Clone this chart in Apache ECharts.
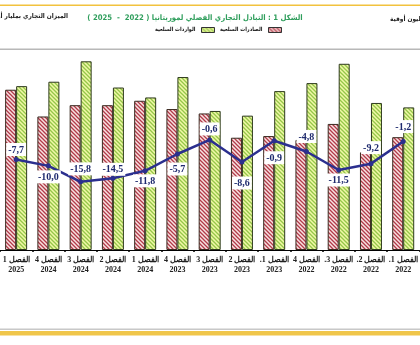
<!DOCTYPE html>
<html>
<head>
<meta charset="utf-8">
<script src="https://cdn.jsdelivr.net/npm/echarts@6/dist/echarts.min.js"></script>
<style>
html,body{margin:0;padding:0;background:#fff;}
#c{width:420px;height:345px;}
</style>
</head>
<body>
<div id="c"></div>
<script>
// ---- data ----
const categories = [
  'الفصل 1\n2025','الفصل 4\n2024','الفصل 3\n2024','الفصل 2\n2024','الفصل 1\n2024',
  'الفصل 4\n2023','الفصل 3\n2023','الفصل 2\n2023','الفصل 1.\n2023','الفصل 4\n2022',
  'الفصل 3.\n2022','الفصل 2.\n2022','الفصل 1.\n2022'
];
const exportsData = [58.1,48.4,52.5,52.5,54.1,51.1,49.5,40.7,41.3,39.9,45.7,35.4,40.9];
const importsData = [59.4,61.0,68.4,58.9,55.3,62.7,50.4,48.7,57.6,60.5,67.5,53.3,51.7];
const balanceData = [-7.7,-10.0,-15.8,-14.5,-11.8,-5.7,-0.6,-8.6,-0.9,-4.8,-11.5,-9.2,-1.2];
const seriesNames = ['الصادرات السلعية','الواردات السلعية'];
const titleText = 'الشكل 1 : التبادل التجاري الفصلي لموريتانيا ( 2022  -  2025 )';
const leftNote = 'الميزان التجاري بمليار أوقية';
const rightNote = 'مليون أوقية';

// label placement (styling only)
const labelSide = ['top','bottom','top','top','bottom','bottom','top','bottom','bottom','top','bottom','top','top'];
const labelDist = [1,2,4,0,1,6,2,12,8,6,1,7,6];

const rtl = s => s.split('\n').map(l => '\u202B' + l + '\u202C').join('\n');

function hatch(bg, fg) {
  const s = 4;
  const cv = document.createElement('canvas');
  cv.width = s; cv.height = s;
  const g = cv.getContext('2d');
  g.fillStyle = bg; g.fillRect(0,0,s,s);
  g.strokeStyle = fg; g.lineWidth = 1.3;
  g.beginPath();
  g.moveTo(-1,-1); g.lineTo(s+1,s+1);
  g.moveTo(-1,s-1); g.lineTo(1,s+1);
  g.moveTo(s-1,-1); g.lineTo(s+1,1);
  g.stroke();
  return {image: cv, repeat: 'repeat'};
}
const redPat = hatch('#f8e2e2', '#b23a48');
const greenPat = hatch('#f1f8a8', '#94c648');

const chart = echarts.init(document.getElementById('c'), null, {renderer:'canvas'});
const arFont = '"DejaVu Sans Condensed", "DejaVu Sans", sans-serif';
const serif = '"Liberation Serif", "DejaVu Serif", serif';

chart.setOption({
  animation: false,
  backgroundColor: '#ffffff',
  legend: {
    data: [seriesNames[1], seriesNames[0]],
    formatter: n => rtl(n),
    right: 133, top: 22,
    align: 'right',
    icon: 'rect',
    itemWidth: 13, itemHeight: 5,
    itemGap: 5,
    textStyle: {fontSize: 5.5, fontWeight:'bold', color:'#111', fontFamily: arFont, padding:[0,1,0,0]},
    itemStyle: {borderColor:'#333', borderWidth:1}
  },
  grid: {left: -4, width: 438, top: 50, height: 200, containLabel: false},
  xAxis: {
    type: 'category',
    data: categories,
    axisLine: {lineStyle: {color:'#000', width: 1}},
    axisTick: {show: true, length: 2, lineStyle:{color:'#000', width:1.5}},
    axisLabel: {
      interval: 0, margin: 5,
      formatter: v => rtl(v),
      fontSize: 8, fontWeight: 'bold', color: '#222', lineHeight: 10,
      fontFamily: serif
    }
  },
  yAxis: [
    {type:'value', min: 0, max: 72.5, show: false, splitLine:{show:false}},
    {type:'value', min: -40.5, max: 32, show: false, splitLine:{show:false}}
  ],
  series: [
    {
      name: seriesNames[0], type: 'bar', data: exportsData,
      barWidth: 11, barGap: '0%',
      itemStyle: {color: redPat, borderColor:'#3a2a20', borderWidth: 1}
    },
    {
      name: seriesNames[1], type: 'bar', data: importsData,
      barWidth: 11,
      itemStyle: {color: greenPat, borderColor:'#2f3a1e', borderWidth: 1}
    },
    {
      name: 'balance', type: 'line', yAxisIndex: 1, z: 5,
      data: balanceData.map((v,i)=>({value: v, label:{position: labelSide[i], distance: labelDist[i]}})),
      symbol: 'circle', symbolSize: 5,
      lineStyle: {color:'#2b2f8e', width: 2.5},
      itemStyle: {color:'#2b2f8e'},
      label: {
        show: true,
        formatter: p => p.value.toFixed(1).replace('.', ','),
        backgroundColor: '#ffffff',
        padding: [2,2,1,2],
        color: '#1e2a6e', fontSize: 10, fontWeight: 'bold', fontFamily: serif
      }
    }
  ],
  graphic: [
    {type:'rect', shape:{x:0,y:4.5,width:420,height:1.5}, style:{fill:'#f2c23e'}, silent:true},
    {type:'rect', shape:{x:0,y:48.5,width:420,height:1.5}, style:{fill:'#b8b8b8'}, silent:true},
    {type:'rect', shape:{x:0,y:328.5,width:420,height:1.5}, style:{fill:'#c8c8c8'}, silent:true},
    {type:'rect', shape:{x:0,y:331,width:420,height:4.5}, style:{fill:'#f0c64a'}, silent:true},
    {type:'text', x: 195, y: 18, style:{text: rtl(titleText), align:'center', verticalAlign:'middle',
      fontSize: 7.7, fontWeight:'bold', fill:'#2f9e5c', fontFamily: arFont}},
    {type:'text', x: 68, y: 16, style:{text: rtl(leftNote), align:'right', verticalAlign:'middle',
      fontSize: 6.5, fontWeight:'bold', fill:'#222', fontFamily: arFont}},
    {type:'text', x: 390, y: 19, style:{text: rtl(rightNote), align:'left', verticalAlign:'middle',
      fontSize: 6.5, fontWeight:'bold', fill:'#222', fontFamily: arFont}}
  ]
});
</script>
</body>
</html>
